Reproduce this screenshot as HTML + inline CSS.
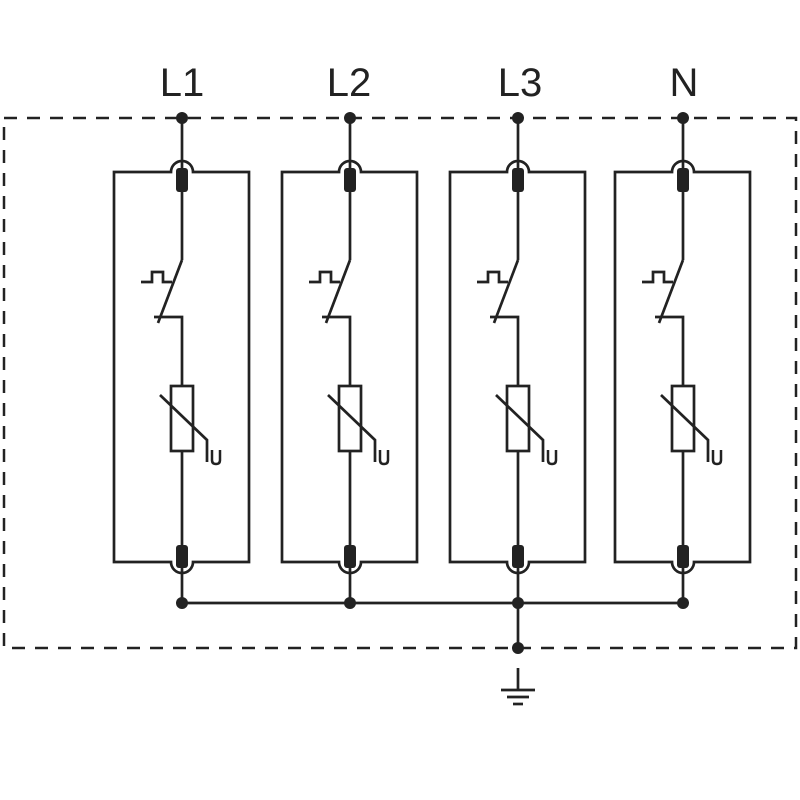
<!DOCTYPE html>
<html><head><meta charset="utf-8"><style>html,body{margin:0;padding:0;background:#fff}svg{display:block}</style></head>
<body>
<svg width="800" height="800" viewBox="0 0 800 800" xmlns="http://www.w3.org/2000/svg">
<rect x="4" y="118" width="792" height="530" fill="none" stroke="#222" stroke-width="2.5" stroke-dasharray="13,10"/>
<g font-family="Liberation Sans, sans-serif" font-size="40" fill="#222" text-anchor="middle">
<text x="182" y="96">L1</text>
<text x="349" y="96">L2</text>
<text x="520" y="96">L3</text>
<text x="684" y="96">N</text>
</g>
<defs>
<g id="m" stroke="#222" stroke-width="2.7" fill="none">
<path d="M-68,172 H-11 A11,11 0 0 1 11,172 H67 V562 H11 A11,11 0 0 1 -11,562 H-68 Z" fill="#fff"/>
<line x1="0" y1="118" x2="0" y2="172"/>
<line x1="0" y1="190" x2="0" y2="260"/>
<path d="M0,260 L-24,323"/>
<path d="M-28,317 H0 V386"/>
<path d="M-41,282 H-30 V272 H-19 V282 H-10"/>
<rect x="-11" y="386" width="22" height="65"/>
<path d="M-22,395 L25,440 V462"/>
<line x1="0" y1="451" x2="0" y2="548"/>
<line x1="0" y1="566" x2="0" y2="603"/>
<rect x="-6" y="168" width="12" height="24" rx="3" fill="#222" stroke="none"/>
<rect x="-6" y="545" width="12" height="23" rx="3" fill="#222" stroke="none"/>
<circle cx="0" cy="118" r="6" fill="#222" stroke="none"/>
<circle cx="0" cy="603" r="6" fill="#222" stroke="none"/>
<path d="M30,450 V460 Q30,464 34,464 Q38,464 38,460 V450" stroke-width="2.5"/>
</g>
</defs>
<use href="#m" x="182"/>
<use href="#m" x="350"/>
<use href="#m" x="518"/>
<use href="#m" x="683"/>
<g stroke="#222" stroke-width="2.7">
<line x1="182" y1="603" x2="683" y2="603"/>
<line x1="518" y1="603" x2="518" y2="648"/>
<line x1="518" y1="668" x2="518" y2="690"/>
<line x1="501" y1="690" x2="535" y2="690"/>
<line x1="507" y1="697" x2="529" y2="697"/>
<line x1="513" y1="704" x2="523" y2="704"/>
</g>
<circle cx="518" cy="648" r="6" fill="#222"/>
</svg>
</body></html>
